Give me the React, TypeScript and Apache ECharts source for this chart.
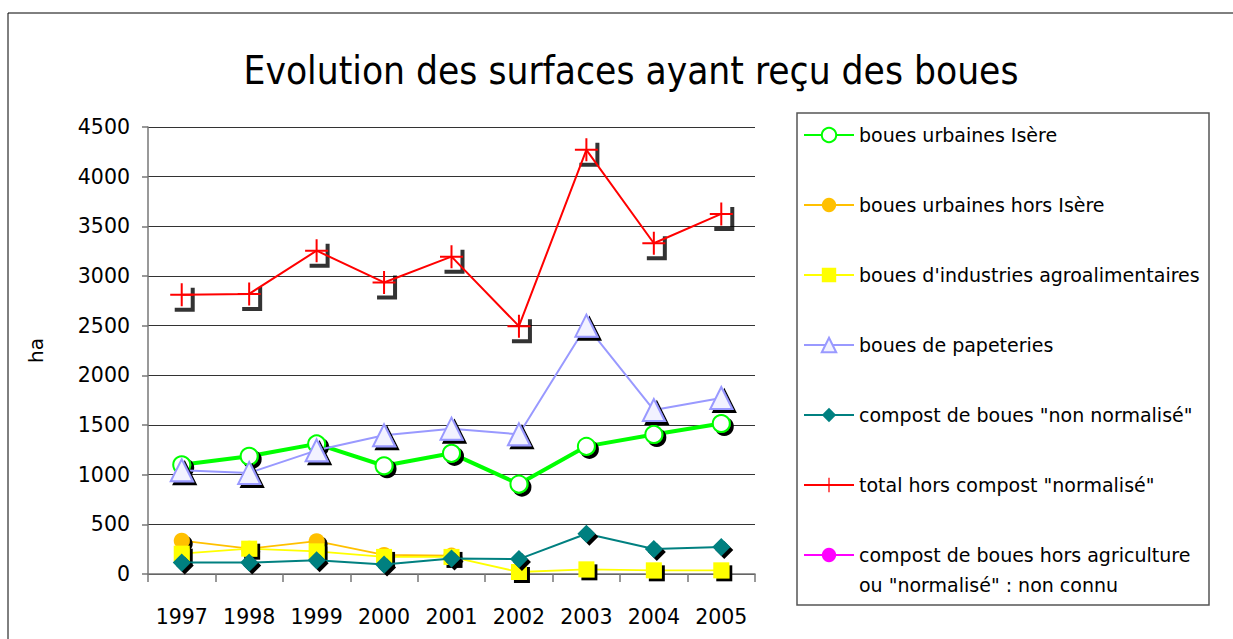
import React, { useEffect, useRef } from "react";
import * as echarts from "echarts";

const years = ["1997", "1998", "1999", "2000", "2001", "2002", "2003", "2004", "2005"];
const bouesIsere = [1100, 1185, 1310, 1090, 1215, 905, 1285, 1405, 1515];
const bouesHorsIsere = [335, 255, 330, 192, 185, null, null, null, null];
const bouesAgro = [205, 255, 228, 172, 172, 20, 47, 37, 37];
const bouesPapeteries = [1045, 1018, 1245, 1396, 1463, 1406, 2500, 1651, 1772];
const compostNonNorm = [115, 115, 138, 95, 155, 150, 405, 252, 272];
const totalHorsCompost = [2810, 2820, 3255, 2935, 3195, 2495, 4270, 3330, 3625];
const compostHorsAgri: (number | null)[] = [];

const names = [
  "boues urbaines Isère",
  "boues urbaines hors Isère",
  "boues d'industries agroalimentaires",
  "boues de papeteries",
  'compost de boues "non normalisé"',
  'total hors compost "normalisé"',
  'compost de boues hors agriculture\nou "normalisé" : non connu',
];

const yMin = 0;
const yMax = 4500;
const yStep = 500;

export default function App() {
  const ref = useRef<HTMLDivElement>(null);
  useEffect(() => {
    const chart = echarts.init(ref.current!, null, { renderer: "svg" });
    const font = "'Comic Sans MS', 'DejaVu Sans', sans-serif";
    const shadow = { shadowColor: "#000", shadowOffsetX: 3, shadowOffsetY: 3, shadowBlur: 0 };
    const crossPath = "path://M10.5,0 H12.5 V23 H10.5 Z M0,10.5 H23 V12.5 H0 Z";
    const cornerPath = "path://M16,0 H20 V24 H0 V20 H16 Z";
    const legendItemStyle = { shadowBlur: 0, shadowOffsetX: 0, shadowOffsetY: 0, shadowColor: "transparent" };

    chart.setOption({
      animation: false,
      backgroundColor: "#ffffff",
      title: {
        text: "Evolution des surfaces ayant reçu des boues",
        left: 626,
        textAlign: "center",
        top: 46,
        textStyle: { fontFamily: "'DejaVu Sans Condensed', sans-serif", fontSize: 38.5, fontWeight: "normal", color: "#000" },
      },
      graphic: [
        { type: "rect", shape: { x: 8, y: 13, width: 1240, height: 640 }, style: { fill: "none", stroke: "#000", lineWidth: 1 }, silent: true, z: -10 },
        { type: "rect", shape: { x: 797, y: 113, width: 412, height: 492 }, style: { fill: "none", stroke: "#555", lineWidth: 1.5 }, silent: true },
      ],
      legend: [
        {
          data: names.slice(0, 6),
          orient: "vertical",
          left: 803,
          top: 120,
          padding: 0,
          itemWidth: 50,
          itemHeight: 18,
          itemGap: 40,
          itemStyle: legendItemStyle,
          textStyle: { fontFamily: font, fontSize: 19, color: "#000", lineHeight: 30 },
        },
        {
          data: [names[6]],
          orient: "vertical",
          left: 803,
          top: 510,
          padding: 0,
          itemWidth: 50,
          itemHeight: 18,
          itemStyle: legendItemStyle,
          formatter: (n: string) => "\n" + n,
          textStyle: { fontFamily: font, fontSize: 19, color: "#000", lineHeight: 30 },
        },
      ],
      grid: { left: 148, top: 127, width: 607, height: 447 },
      xAxis: {
        type: "category",
        data: years,
        boundaryGap: true,
        axisLine: { lineStyle: { color: "#777", width: 1.5 } },
        axisTick: { show: true, length: 8, lineStyle: { color: "#777", width: 1.5 } },
        axisLabel: { interval: 0, hideOverlap: false, margin: 32, fontFamily: font, fontSize: 20.5, color: "#000" },
      },
      yAxis: {
        type: "value",
        min: yMin,
        max: yMax,
        interval: yStep,
        name: "ha",
        nameLocation: "middle",
        nameGap: 102,
        nameTextStyle: { fontFamily: font, fontSize: 20, color: "#000" },
        axisLine: { show: true, lineStyle: { color: "#777", width: 1.5 } },
        axisTick: { show: true, length: 6, lineStyle: { color: "#777", width: 1.5 } },
        axisLabel: { margin: 18, fontFamily: font, fontSize: 20.5, color: "#000", formatter: (v: number) => String(v) },
        splitLine: { show: true, lineStyle: { color: "#333", width: 1 } },
      },
      series: [
        {
          name: names[0],
          type: "line",
          data: bouesIsere,
          symbol: "circle",
          symbolSize: 17,
          lineStyle: { color: "#00ff00", width: 4 },
          itemStyle: { color: "#ffffff", borderColor: "#00ff00", borderWidth: 2, ...shadow },
          z: 3,
        },
        {
          name: names[1],
          type: "line",
          data: bouesHorsIsere,
          symbol: "circle",
          symbolSize: 16,
          lineStyle: { color: "#ffc000", width: 1.8 },
          itemStyle: { color: "#ffc000", ...shadow },
          z: 4,
        },
        {
          name: names[2],
          type: "line",
          data: bouesAgro,
          symbol: "rect",
          symbolSize: 16,
          lineStyle: { color: "#ffff00", width: 1.8 },
          itemStyle: { color: "#ffff00", ...shadow },
          z: 5,
        },
        {
          name: names[3],
          type: "line",
          data: bouesPapeteries,
          symbol: "triangle",
          symbolSize: [22, 22],
          lineStyle: { color: "#9999ff", width: 2 },
          itemStyle: { color: "#f2f2ff", borderColor: "#9999ff", borderWidth: 2, ...shadow },
          z: 6,
        },
        {
          name: names[4],
          type: "line",
          data: compostNonNorm,
          symbol: "diamond",
          symbolSize: 18,
          lineStyle: { color: "#008080", width: 2 },
          itemStyle: { color: "#008080", ...shadow },
          z: 7,
        },
        {
          name: "shadow-total",
          type: "scatter",
          data: totalHorsCompost,
          symbol: cornerPath,
          symbolSize: [20, 24],
          symbolOffset: [3, 5],
          itemStyle: { color: "#000" },
          silent: true,
          z: 7,
        },
        {
          name: names[5],
          type: "line",
          data: totalHorsCompost,
          symbol: crossPath,
          symbolSize: 23,
          lineStyle: { color: "#ff0000", width: 2 },
          itemStyle: { color: "#ff0000" },
          z: 8,
        },
        {
          name: names[6],
          type: "line",
          data: compostHorsAgri,
          symbol: "circle",
          symbolSize: 14,
          lineStyle: { color: "#ff00ff", width: 2 },
          itemStyle: { color: "#ff00ff" },
        },
      ],
    });
    return () => chart.dispose();
  }, []);
  return (
    <div
      ref={ref}
      style={{ position: "fixed", left: 0, top: 0, width: 1233, height: 639, background: "#fff" }}
    />
  );
}
